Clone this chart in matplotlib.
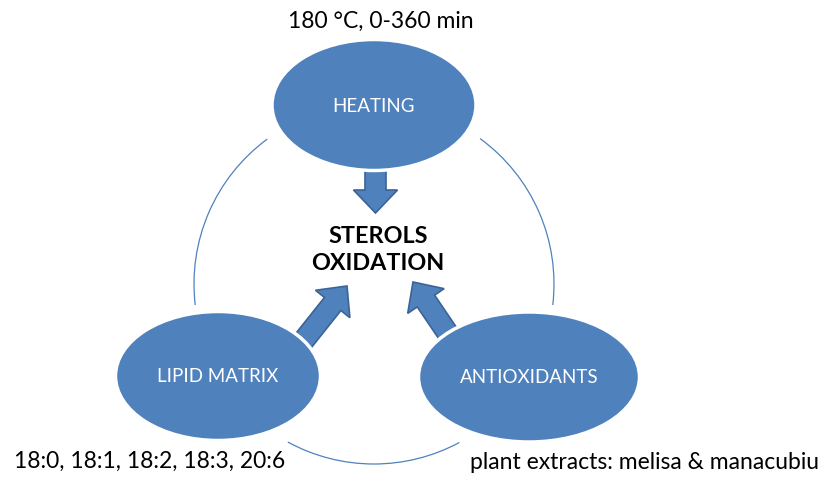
import matplotlib
matplotlib.use("Agg")
import matplotlib.pyplot as plt
from matplotlib.patches import Ellipse, Arc, FancyArrow

# diagram content
node_labels = ["HEATING", "LIPID MATRIX", "ANTIOXIDANTS"]
node_notes = ["180 °C, 0-360 min", "18:0, 18:1, 18:2, 18:3, 20:6",
              "plant extracts: melisa & manacubiu"]
center_label = "STEROLS\nOXIDATION"

# layout in pixel units (y grows downwards)
node_xy = [(374, 106), (218, 377), (529, 378)]
node_wh = [(204, 131), (205, 129), (221, 130)]
note_xy = [(381, 21, "center"), (14, 461, "left"), (470, 463, "left")]
ring_c, ring_r = (374, 285), 180
ring_spans = [(173.3, 233.6), (-53.9, 6.7), (61.7, 118.6)]
arrows = [((375.5, 163), (375.5, 214)),
          ((300, 346), (347, 287)),
          ((451, 339), (413, 283))]

blue = "#4f81bd"
edge = "#3b6496"
font = ["Lato", "DejaVu Sans"]

fig = plt.figure(figsize=(8.35, 4.85), dpi=100)
ax = fig.add_axes([0, 0, 1, 1])
ax.set_xlim(0, 835)
ax.set_ylim(485, 0)
ax.axis("off")

# thin ring behind the nodes
for t1, t2 in ring_spans:
    ax.add_patch(Arc(ring_c, 2 * ring_r, 2 * ring_r, theta1=t1, theta2=t2,
                     color=blue, lw=0.9, zorder=1))

# block arrows pointing at the centre
for (x0, y0), (x1, y1) in arrows:
    ax.add_patch(FancyArrow(x0, y0, x1 - x0, y1 - y0, width=21, head_width=44,
                            head_length=23, length_includes_head=True,
                            facecolor=blue, edgecolor=edge, lw=1.2, zorder=2))

# nodes
for (x, y), (w, h), label in zip(node_xy, node_wh, node_labels):
    ax.add_patch(Ellipse((x, y), w, h, facecolor=blue, edgecolor="white",
                         lw=2.5, zorder=3))
    ax.text(x, y, label, color="white", fontsize=13.5, family=font,
            ha="center", va="center", zorder=4)

for (x, y, ha), note in zip(note_xy, node_notes):
    ax.text(x, y, note, color="black", fontsize=16.5, family=font,
            ha=ha, va="center", zorder=4)

ax.text(378, 250, center_label, color="black", fontsize=16.8, family=font,
        fontweight="bold", ha="center", va="center", linespacing=1.3, zorder=4)

fig.savefig("out.png", dpi=100, facecolor="white")
